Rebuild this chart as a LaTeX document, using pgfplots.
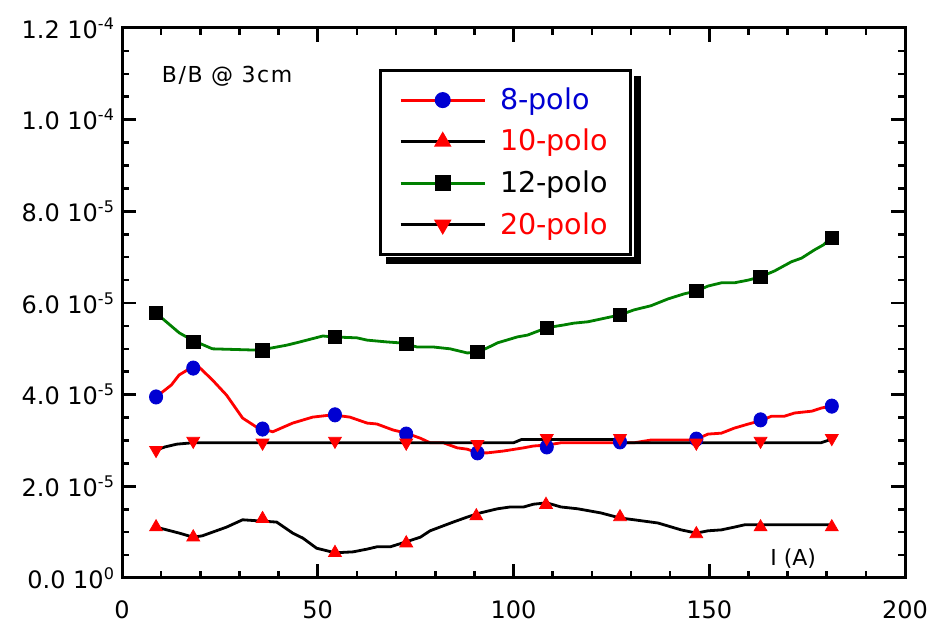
\documentclass[border=0pt]{standalone}
\usepackage{fontspec}
\setmainfont{DejaVu Sans}
\usepackage{pgfplots}
\pgfplotsset{compat=1.18}
\definecolor{pgreen}{RGB}{0,128,0}
\definecolor{pred}{RGB}{255,0,0}
\definecolor{pblue}{RGB}{0,0,210}
\begin{document}
\begin{tikzpicture}
\begin{axis}[
  scale only axis,
  width=391.5pt, height=275pt,
  xmin=0, xmax=200, ymin=0, ymax=1.2e-4,
  axis line style={line width=1.5pt},
  every tick/.style={black, line width=1.3pt},
  major tick length=7pt, minor tick length=3.5pt,
  tick align=inside,
  xtick={0,50,100,150,200},
  xticklabels={0,50,100,150,200},
  minor x tick num=4,
  ytick={0,2e-5,4e-5,6e-5,8e-5,1e-4,1.2e-4},
  yticklabels={0.0 10\textsuperscript{0},2.0 10\textsuperscript{-5},4.0 10\textsuperscript{-5},6.0 10\textsuperscript{-5},8.0 10\textsuperscript{-5},1.0 10\textsuperscript{-4},1.2 10\textsuperscript{-4}},
  minor y tick num=3,
  scaled y ticks=false, scaled x ticks=false,
  /pgf/number format/assume math mode=true,
  tick label style={font=\fontsize{12}{14}\selectfont},
  xticklabel style={yshift=-8pt},
  legend cell align=left,
  legend image code/.code={\draw[mark repeat=2,mark phase=2,#1] plot coordinates {(0pt,0pt) (21pt,0pt) (42pt,0pt)}; \path (47pt,0pt);},
  legend style={name=leg, at={(0.328,0.925)}, anchor=north west, draw=black, line width=1.5pt, fill=white,
    font=\fontsize{14.3}{17}\selectfont, inner xsep=9.5pt, inner ysep=6.5pt,
    nodes={inner sep=2pt}, row sep=4.4pt},
]
% lines
\addplot[pred, line width=1.4pt, forget plot] coordinates {
(8.7,3.95e-5) (12.6,4.21e-5) (14.6,4.43e-5) (17.9,4.60e-5) (19.7,4.60e-5) (23.1,4.32e-5) (26.7,3.99e-5) (30.8,3.49e-5) (34.4,3.29e-5) (38.5,3.19e-5) (43.6,3.38e-5) (48.7,3.51e-5) (53.8,3.56e-5) (58.2,3.51e-5) (62.6,3.38e-5) (65.1,3.36e-5) (69.2,3.23e-5) (72.6,3.16e-5) (76.2,3.05e-5) (78.7,2.95e-5) (82.1,2.95e-5) (85.6,2.84e-5) (88.2,2.81e-5) (90.8,2.73e-5) (93.3,2.73e-5) (97.4,2.77e-5) (102.6,2.84e-5) (105.1,2.88e-5) (108.5,2.90e-5) (112.1,2.95e-5) (126.7,2.95e-5) (130.8,2.95e-5) (135.1,3.01e-5) (146.2,3.01e-5) (149.7,3.14e-5) (153.1,3.16e-5) (156.4,3.27e-5) (160,3.36e-5) (163.1,3.43e-5) (165.9,3.53e-5) (169.2,3.53e-5) (171.8,3.60e-5) (176.2,3.64e-5) (178.7,3.71e-5) (181.3,3.75e-5)};
\addplot[black, line width=1.4pt, forget plot] coordinates {
(8.7,1.11e-5) (14.6,0.98e-5) (18.2,0.89e-5) (20.5,0.92e-5) (26.7,1.11e-5) (30.8,1.27e-5) (39.5,1.22e-5) (43.6,0.98e-5) (46.2,0.87e-5) (49.7,0.65e-5) (54.4,0.55e-5) (59,0.57e-5) (62.6,0.63e-5) (65.1,0.68e-5) (68.5,0.68e-5) (72.6,0.79e-5) (76.2,0.89e-5) (78.7,1.03e-5) (84.6,1.22e-5) (88.2,1.33e-5) (91.5,1.42e-5) (95.9,1.51e-5) (99.2,1.55e-5) (102.6,1.55e-5) (105.1,1.61e-5) (108.5,1.64e-5) (112.1,1.55e-5) (116.4,1.51e-5) (122.3,1.42e-5) (127.2,1.31e-5) (130.8,1.27e-5) (136.9,1.20e-5) (142.8,1.05e-5) (146.7,0.98e-5) (149.7,1.03e-5) (153.1,1.05e-5) (156.4,1.11e-5) (159,1.16e-5) (163.1,1.16e-5) (181.3,1.16e-5)};
\addplot[pgreen, line width=1.4pt, forget plot] coordinates {
(8.7,5.78e-5) (14.6,5.35e-5) (17.9,5.19e-5) (23.1,5.00e-5) (35.1,4.97e-5) (42.1,5.08e-5) (45.4,5.15e-5) (51.3,5.28e-5) (53.8,5.26e-5) (60,5.24e-5) (62.6,5.19e-5) (67.7,5.15e-5) (71,5.13e-5) (75.4,5.04e-5) (79.5,5.04e-5) (83.8,5.00e-5) (88.2,4.91e-5) (90.8,4.93e-5) (93.3,5.02e-5) (95.9,5.13e-5) (101,5.26e-5) (103.6,5.30e-5) (108.5,5.46e-5) (112.8,5.52e-5) (115.4,5.56e-5) (119,5.59e-5) (122.3,5.65e-5) (127.2,5.74e-5) (130.8,5.85e-5) (135.1,5.94e-5) (139.5,6.09e-5) (143.6,6.20e-5) (146.7,6.26e-5) (149.7,6.37e-5) (153.1,6.44e-5) (156.4,6.44e-5) (160,6.50e-5) (163.1,6.57e-5) (166.7,6.70e-5) (171,6.90e-5) (173.6,6.98e-5) (176.9,7.16e-5) (179.2,7.27e-5) (181,7.42e-5)};
\addplot[black, line width=1.4pt, forget plot] coordinates {
(8.7,2.79e-5) (11,2.86e-5) (14,2.92e-5) (18,2.95e-5) (100,2.95e-5) (102,3.02e-5) (126,3.02e-5) (127.5,2.95e-5) (178.5,2.95e-5) (181,3.02e-5)};
% markers
\addplot[only marks, mark=*, mark size=3.3pt, mark options={draw=pblue, fill=pblue, yscale=1.08}, forget plot] coordinates {
(8.7,3.95e-5) (18.2,4.58e-5) (35.9,3.25e-5) (54.4,3.56e-5) (72.6,3.14e-5) (90.8,2.73e-5) (108.5,2.86e-5) (127.2,2.97e-5) (146.7,3.03e-5) (163.1,3.45e-5) (181.3,3.75e-5)};
\addplot[only marks, mark=triangle*, mark size=3.7pt, mark options={draw=pred, fill=pred}, forget plot] coordinates {
(8.7,1.11e-5) (18.2,0.89e-5) (35.9,1.29e-5) (54.4,0.55e-5) (72.6,0.76e-5) (90.5,1.35e-5) (108.3,1.60e-5) (127.2,1.33e-5) (146.7,0.96e-5) (163.1,1.11e-5) (181.3,1.11e-5)};
\addplot[only marks, mark=square*, mark size=3.4pt, mark options={draw=black, fill=black}, forget plot] coordinates {
(8.7,5.78e-5) (18.2,5.15e-5) (35.9,4.97e-5) (54.4,5.26e-5) (72.6,5.11e-5) (90.8,4.93e-5) (108.5,5.46e-5) (127.2,5.74e-5) (146.7,6.26e-5) (163.1,6.57e-5) (181.3,7.42e-5)};
\addplot[only marks, mark=triangle*, mark size=3.7pt, mark options={draw=pred, fill=pred, rotate=180}, forget plot] coordinates {
(8.7,2.79e-5) (18.2,2.99e-5) (35.9,2.95e-5) (54.4,2.99e-5) (72.6,2.95e-5) (90.8,2.92e-5) (108.5,3.05e-5) (127.2,3.05e-5) (146.7,2.95e-5) (163.1,2.99e-5) (181.3,3.05e-5)};
% legend
\addlegendimage{pred, line width=1.4pt, mark=*, mark size=3.3pt, mark options={draw=pblue, fill=pblue}}
\addlegendentry{\textcolor{pblue}{8-polo}}
\addlegendimage{black, line width=1.4pt, mark=triangle*, mark size=3.7pt, mark options={draw=pred, fill=pred}}
\addlegendentry{\textcolor{pred}{10-polo}}
\addlegendimage{pgreen, line width=1.4pt, mark=square*, mark size=3.4pt, mark options={draw=black, fill=black}}
\addlegendentry{\textcolor{black}{12-polo}}
\addlegendimage{black, line width=1.4pt, mark=triangle*, mark size=3.7pt, mark options={draw=pred, fill=pred, rotate=180}}
\addlegendentry{\textcolor{pred}{20-polo}}
\node[anchor=west, font=\fontsize{11}{13}\selectfont\addfontfeature{LetterSpace=7}] at (rel axis cs:0.042,0.913) {B/B @ 3cm};
\node[anchor=west, font=\fontsize{11}{13}\selectfont] at (rel axis cs:0.819,0.035) {I (A)};
\end{axis}
% legend shadow
\fill[black] ([xshift=0.75pt,yshift=-3.5pt]leg.north east) rectangle ([xshift=4.25pt,yshift=-4.25pt]leg.south east);
\fill[black] ([xshift=3.5pt,yshift=-0.75pt]leg.south west) rectangle ([xshift=4.25pt,yshift=-4.25pt]leg.south east);
\path (current axis.south west) +(-61pt,-22pt) (current axis.north east) +(15pt,14pt);
\end{tikzpicture}
\end{document}
